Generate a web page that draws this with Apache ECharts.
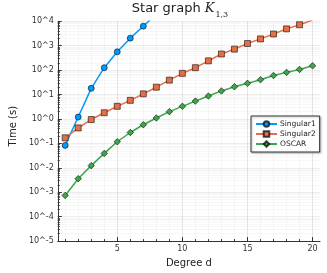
<!DOCTYPE html>
<html><head><meta charset="utf-8">
<script src="https://cdn.jsdelivr.net/npm/echarts@6/dist/echarts.min.js"></script>
<style>html,body{margin:0;padding:0;background:#fff}#c{width:327px;height:273px}</style>
</head><body><div id="c"></div>
<script>
// Degree d
const degrees1 = [1, 2, 3, 4, 5, 6, 7, 8];
const degrees = [1,2,3,4,5,6,7,8,9,10,11,12,13,14,15,16,17,18,19,20];
// Time (s)
const singular1 = [0.083, 1.2, 18, 126, 562, 2040, 6300, 20000];
const singular2 = [0.17, 0.43, 0.95, 1.8, 3.3, 5.8, 10.7, 20, 39, 74, 126, 240, 457, 724, 1230, 1900, 3020, 4900, 7240, 11200];
const oscar = [0.00074, 0.0036, 0.0123, 0.039, 0.117, 0.28, 0.58, 1.1, 2.0, 3.3, 5.4, 8.7, 14.1, 20.9, 28.8, 40.7, 60, 81, 107, 151];
const xTickLabels = [5, 10, 15, 20];
const yExponents = [-5, -4, -3, -2, -1, 0, 1, 2, 3, 4];
const seriesNames = ['Singular1', 'Singular2', 'OSCAR'];

const minorY = [];
yExponents.forEach(e => { if (e < 4) for (let k = 2; k <= 9; k++) minorY.push(Math.log10(k) + e); });
const toPts = (xs, ys) => xs.map((x, i) => [x, Math.log10(ys[i])]);

const gridColorMinor = 'rgba(0,0,0,0.03)';
const gridColorMajor = 'rgba(0,0,0,0.07)';
const font = 'DejaVu Sans';
const mk = (name, xs, ys, color, symbol, size) => ({
  name, type: 'line', xAxisIndex: 0, yAxisIndex: 0, data: toPts(xs, ys),
  symbol, symbolSize: size, showSymbol: true, clip: true,
  lineStyle: { color, width: 1.5 },
  itemStyle: { color, borderColor: 'rgba(0,0,0,0.7)', borderWidth: 0.8 },
  emphasis: { disabled: true }, animation: false
});

const chart = echarts.init(document.getElementById('c'), null, { renderer: 'canvas' });
chart.setOption({
  animation: false,
  title: {
    text: '{a|Star graph }{k|K}{s|1,3}',
    left: 180, textAlign: 'center', top: 2,
    padding: 0,
    textStyle: {
      fontWeight: 'normal',
      rich: {
        a: { fontFamily: font, fontSize: 13, fontWeight: 'normal', color: '#222', verticalAlign: 'top', lineHeight: 16 },
        k: { fontFamily: 'DejaVu Serif', fontStyle: 'italic', fontWeight: 'normal', fontSize: 13, color: '#222', verticalAlign: 'top', lineHeight: 16 },
        s: { fontFamily: 'DejaVu Serif', fontWeight: 'normal', fontSize: 8, color: '#222', verticalAlign: 'top', lineHeight: 8, padding: [9, 0, 0, 1] }
      }
    }
  },
  grid: { left: 40, right: 7, top: 21.3, bottom: 30.3, containLabel: false },
  legend: {
    data: seriesNames, orient: 'vertical', left: 251, top: 116,
    itemWidth: 21, itemHeight: 7, itemGap: 2,
    padding: [4, 4, 4, 4], borderColor: '#333', borderWidth: 1,
    backgroundColor: '#fff',
    shadowColor: 'rgba(0,0,0,0.25)', shadowBlur: 2, shadowOffsetX: 1, shadowOffsetY: 1,
    textStyle: { fontFamily: font, fontSize: 7.5, color: '#222', padding: [0, 0, 0, -2] }
  },
  xAxis: [
    {
      type: 'value', min: 0.43, max: 20.57, position: 'bottom',
      name: 'Degree d', nameLocation: 'middle', nameGap: 12,
      nameTextStyle: { fontFamily: font, fontSize: 10, color: '#222' },
      axisLine: { show: true, onZero: false, lineStyle: { color: '#333', width: 1 } },
      axisTick: { show: true, inside: true, length: 2, customValues: degrees, lineStyle: { color: '#333' } },
      axisLabel: { show: true, customValues: xTickLabels, fontFamily: font, fontSize: 8, color: '#333', margin: 4 },
      splitLine: { show: true, lineStyle: { color: gridColorMinor, width: 1 } }
    },
    {
      type: 'value', min: 0.43, max: 20.57, position: 'bottom',
      axisLine: { show: false, onZero: false },
      axisTick: { show: true, inside: true, length: 4, customValues: xTickLabels, lineStyle: { color: '#333' } },
      axisLabel: { show: false, customValues: xTickLabels },
      splitLine: { show: true, lineStyle: { color: gridColorMajor, width: 1 } }
    }
  ],
  yAxis: [
    {
      type: 'value', min: -5, max: 4, position: 'left',
      name: 'Time (s)', nameLocation: 'middle', nameGap: 26, nameRotate: 90,
      nameTextStyle: { fontFamily: font, fontSize: 10, color: '#222', padding: [0, 0, 0, 10] },
      axisLine: { show: true, onZero: false, lineStyle: { color: '#333', width: 1 } },
      axisTick: { show: true, inside: true, length: 2, customValues: minorY, lineStyle: { color: '#333' } },
      axisLabel: { show: true, customValues: yExponents, formatter: v => '10^' + Math.round(v), fontFamily: font, fontSize: 8, color: '#333', margin: 4 },
      splitLine: { show: true, lineStyle: { color: gridColorMinor, width: 1 } }
    },
    {
      type: 'value', min: -5, max: 4, interval: 1, position: 'left',
      axisLine: { show: false, onZero: false },
      axisTick: { show: true, inside: true, length: 4, lineStyle: { color: '#333' } },
      axisLabel: { show: false },
      splitLine: { show: true, lineStyle: { color: gridColorMajor, width: 1 } }
    }
  ],
  series: [
    mk(seriesNames[0], degrees1, singular1, '#009AFA', 'circle', 6),
    mk(seriesNames[1], degrees, singular2, '#E36F47', 'rect', 6),
    mk(seriesNames[2], degrees, oscar, '#3EA44E', 'diamond', 6.5)
  ]
});
</script></body></html>
